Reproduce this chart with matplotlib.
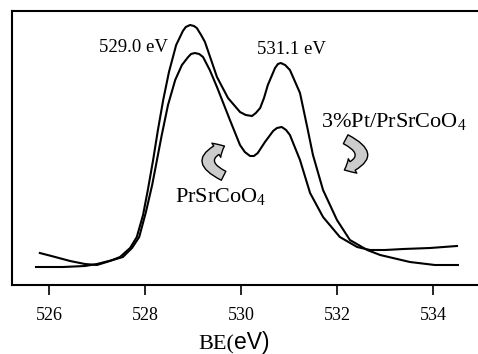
import matplotlib
matplotlib.use("Agg")
import matplotlib.pyplot as plt
from matplotlib.patches import FancyArrowPatch

plt.rcParams['font.family'] = ['Liberation Serif', 'DejaVu Serif']
plt.rcParams['mathtext.fontset'] = 'custom'
plt.rcParams['mathtext.rm'] = 'Liberation Serif'

# O 1s spectra (BE in eV, intensity in arbitrary units)
be_pt = [525.81, 526.13, 526.44, 526.75, 527.00, 527.27, 527.48, 527.69, 527.83, 527.96,
         528.06, 528.17, 528.27, 528.38, 528.50, 528.65, 528.79, 528.85, 528.94, 529.02,
         529.08, 529.17, 529.25, 529.50, 529.73, 529.98, 530.10, 530.23, 530.31, 530.40,
         530.48, 530.56, 530.71, 530.77, 530.83, 530.92, 531.02, 531.23, 531.38, 531.50,
         531.71, 532.00, 532.27, 532.63, 532.90, 533.52, 534.04, 534.52]
int_pt = [32, 28, 24, 21, 20, 24, 28, 37, 48, 70,
          95, 125, 155, 185, 213, 240, 254, 258, 260, 259,
          257, 250, 243, 208, 187, 173, 170, 169, 172, 177,
          187, 200, 217, 221, 222, 220, 215, 192, 158, 130,
          95, 65, 45, 35, 30, 23, 20, 20]

be_psco = [525.73, 526.29, 526.75, 527.00, 527.33, 527.54, 527.73, 527.88, 528.02, 528.15,
           528.25, 528.35, 528.48, 528.63, 528.77, 528.90, 528.96, 529.04, 529.13, 529.21,
           529.35, 529.50, 529.77, 529.98, 530.08, 530.19, 530.27, 530.35, 530.50, 530.67,
           530.75, 530.85, 530.94, 531.02, 531.23, 531.44, 531.71, 532.06, 532.42, 532.69,
           533.00, 533.38, 533.94, 534.50]
int_psco = [18, 18, 19, 21, 25, 28, 37, 48, 73, 100,
            125, 150, 180, 205, 220, 228, 231, 232, 231, 228,
            215, 198, 165, 140, 133, 129, 129, 132, 143, 154,
            157, 158, 155, 150, 125, 92, 68, 48, 38, 35,
            35, 36, 37, 39]

xticks = [526, 528, 530, 532, 534]

fig = plt.figure(figsize=(4.78, 3.54), dpi=100)
ax = fig.add_axes([12/478, 69/354, 468/478, 274/354])

ax.plot(be_pt, int_pt, color='black', lw=1.5, solid_joinstyle='round')
ax.plot(be_psco, int_psco, color='black', lw=1.5, solid_joinstyle='round')

ax.set_xlim(525.23, 534.98)
ax.set_ylim(0, 274)
ax.set_xticks(xticks)
ax.set_yticks([])
ax.tick_params(axis='x', direction='out', length=7.5, width=1.2, pad=8, labelsize=13)
for s in ax.spines.values():
    s.set_linewidth(1.5)
ax.spines['right'].set_visible(False)

ax.text(527.04, 233, '529.0 eV', fontsize=13.5, va='baseline')
ax.text(530.33, 231, '531.1 eV', fontsize=13.5, va='baseline')
ax.text(531.67, 158, r'3%Pt/PrSrCoO$_4$', fontsize=16, va='baseline')
ax.text(528.63, 83, r'PrSrCoO$_4$', fontsize=16, va='baseline')

# curved arrows
for a, b in [((529.69, 108), (529.71, 140)), ((532.13, 147), (532.10, 114))]:
    arr = FancyArrowPatch(a, b, connectionstyle='arc3,rad=-1.15',
                          arrowstyle='simple,head_length=0.55,head_width=1.0,tail_width=0.6',
                          mutation_scale=12, fc='#cccccc', ec='black', lw=1)
    ax.add_patch(arr)

fig.text(234/478, 5/354, 'BE(', fontsize=16, ha='right', va='baseline')
fig.text(234/478, 5/354, 'eV)', fontsize=16.5, ha='left', va='baseline',
         family=['Liberation Sans', 'DejaVu Sans'])

fig.savefig('out.png', dpi=100)
